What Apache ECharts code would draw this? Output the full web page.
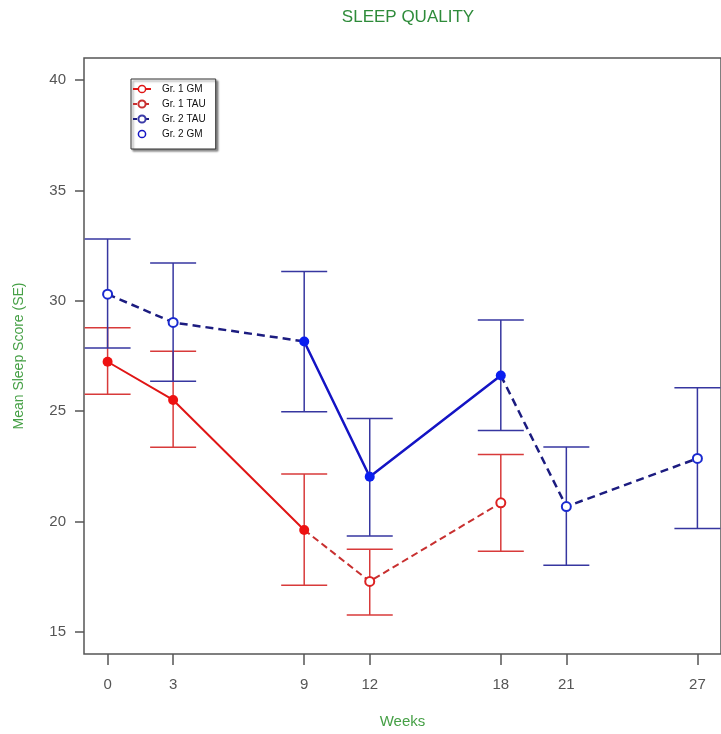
<!DOCTYPE html>
<html>
<head>
<meta charset="utf-8">
<script src="https://cdn.jsdelivr.net/npm/echarts@6/dist/echarts.min.js"></script>
<style>
html,body{margin:0;padding:0;background:#fff;}
#chart{width:721px;height:734px;}
</style>
</head>
<body>
<div id="chart"></div>
<script>
// ---- data ----
const weeks1 = [0, 3, 9, 12, 18];
const mean1  = [27.24, 25.51, 19.62, 17.29, 20.85];
const lo1    = [25.77, 23.37, 17.12, 15.77, 18.66];
const hi1    = [28.78, 27.72, 22.16, 18.75, 23.04];

const weeks2 = [0, 3, 9, 12, 18, 21, 27];
const mean2  = [30.30, 29.02, 28.16, 22.03, 26.62, 20.68, 22.86];
const lo2    = [27.86, 26.36, 24.97, 19.35, 24.13, 18.02, 19.69];
const hi2    = [32.80, 31.71, 31.33, 24.67, 29.13, 23.38, 26.06];

const xTicks = [0, 3, 9, 12, 18, 21, 27];
const yTicks = [15, 20, 25, 30, 35, 40];
const legendNames = ['Gr. 1 GM', 'Gr. 1 TAU', 'Gr. 2 TAU', 'Gr. 2 GM'];
const titleText = 'SLEEP QUALITY';
const xName = 'Weeks';
const yName = 'Mean Sleep Score (SE)';

// ---- styles ----
const RED = '#e01515', RED_D = '#c83030', RED_EB = '#d83a3a';
const BLUE = '#1414c4', BLUE_PT = '#0a1ef0', NAVY = '#1c1c80', BLUE_EB = '#3636a0';
const GREEN_T = '#2e8b3a', GREEN_A = '#46a046';
const FONT = '"Liberation Sans", Arial, Helvetica, sans-serif';

function seg(w, m, from, to, noSym) {
  const out = [];
  for (let i = from; i <= to; i++) {
    const item = { value: [w[i], m[i]] };
    if (noSym.indexOf(i) >= 0) item.symbol = 'none';
    out.push(item);
  }
  return out;
}

function errSeries(w, lo, hi, color) {
  return {
    type: 'custom',
    z: 1,
    silent: true,
    encode: { x: 0, y: [1, 2] },
    data: w.map((x, i) => [x, lo[i], hi[i]]),
    renderItem: function (params, api) {
      const x = api.value(0);
      const pLo = api.coord([x, api.value(1)]);
      const pHi = api.coord([x, api.value(2)]);
      const hw = 23;
      const st = { stroke: color, lineWidth: 1.5 };
      return {
        type: 'group',
        children: [
          { type: 'line', shape: { x1: pLo[0], y1: pLo[1], x2: pHi[0], y2: pHi[1] }, style: st },
          { type: 'line', shape: { x1: pHi[0] - hw, y1: pHi[1], x2: pHi[0] + hw, y2: pHi[1] }, style: st },
          { type: 'line', shape: { x1: pLo[0] - hw, y1: pLo[1], x2: pLo[0] + hw, y2: pLo[1] }, style: st }
        ]
      };
    }
  };
}

const chart = echarts.init(document.getElementById('chart'), null, { renderer: 'canvas' });

const option = {
  animation: false,
  backgroundColor: '#fff',
  textStyle: { fontFamily: FONT },
  title: {
    text: titleText,
    left: 408,
    top: 9,
    textAlign: 'center',
    padding: 0,
    textStyle: { color: GREEN_T, fontSize: 17, fontWeight: 'normal', fontFamily: FONT }
  },
  legend: {
    orient: 'vertical',
    left: 131,
    top: 79,
    padding: [5, 10, 10, 1],
    itemWidth: 18,
    itemHeight: 9,
    itemGap: 5,
    backgroundColor: '#fff',
    borderColor: '#333',
    borderWidth: 1,
    shadowColor: 'rgba(0,0,0,0.45)',
    shadowOffsetX: 2,
    shadowOffsetY: 2,
    shadowBlur: 2,
    textStyle: { fontSize: 10, color: '#111', fontFamily: FONT, padding: [0, 0, 0, 6] },
    data: [
      { name: legendNames[0], itemStyle: { color: '#fff', borderColor: RED, borderWidth: 1.5 } },
      { name: legendNames[1], lineStyle: { type: [4, 2] }, itemStyle: { color: RED_D, borderColor: RED_D } },
      { name: legendNames[2], lineStyle: { type: [4, 2] }, itemStyle: { color: '#3a3aa8', borderColor: NAVY } },
      { name: legendNames[3], lineStyle: { opacity: 0 }, itemStyle: { color: '#fff', borderColor: BLUE, borderWidth: 1.5 } }
    ]
  },
  grid: {
    left: 84,
    top: 58,
    width: 650,
    height: 596,
    show: true,
    borderColor: '#555',
    borderWidth: 1.5,
    backgroundColor: 'transparent'
  },
  xAxis: {
    type: 'value',
    min: -1.08,
    max: 28.08,
    name: xName,
    nameLocation: 'middle',
    nameGap: 60,
    nameTextStyle: { color: GREEN_A, fontSize: 15, fontFamily: FONT },
    axisLine: { show: false, onZero: false },
    splitLine: { show: false },
    axisTick: { show: true, length: 11, customValues: xTicks, lineStyle: { color: '#555', width: 1.5 } },
    axisLabel: { customValues: xTicks, margin: 23, fontSize: 15, color: '#555', fontFamily: FONT }
  },
  yAxis: {
    type: 'value',
    min: 14,
    max: 41,
    name: yName,
    nameLocation: 'middle',
    nameGap: 58,
    nameTextStyle: { color: GREEN_A, fontSize: 14, fontFamily: FONT },
    axisLine: { show: false, onZero: false },
    splitLine: { show: false },
    axisTick: { show: true, length: 9, customValues: yTicks, lineStyle: { color: '#555', width: 1.5 } },
    axisLabel: { customValues: yTicks, margin: 18, fontSize: 15, color: '#555', fontFamily: FONT }
  },
  series: [
    errSeries(weeks1, lo1, hi1, RED_EB),
    errSeries(weeks2, lo2, hi2, BLUE_EB),
    {
      name: legendNames[2], type: 'line', z: 3,
      data: seg(weeks2, mean2, 0, 2, [2]),
      symbol: 'emptyCircle', symbolSize: 9,
      itemStyle: { color: '#1a2ad0', borderWidth: 2 },
      lineStyle: { color: NAVY, width: 2.5, type: [8, 5] }
    },
    {
      name: legendNames[2], type: 'line', z: 3,
      data: seg(weeks2, mean2, 4, 6, [4]),
      symbol: 'emptyCircle', symbolSize: 9,
      itemStyle: { color: '#1a2ad0', borderWidth: 2 },
      lineStyle: { color: NAVY, width: 2.5, type: [8, 5] }
    },
    {
      name: legendNames[3], type: 'line', z: 4,
      data: seg(weeks2, mean2, 2, 4, []),
      symbol: 'circle', symbolSize: 10,
      itemStyle: { color: BLUE_PT },
      lineStyle: { color: BLUE, width: 2.5 }
    },
    {
      name: legendNames[1], type: 'line', z: 3,
      data: seg(weeks1, mean1, 2, 4, [2]),
      symbol: 'emptyCircle', symbolSize: 9,
      itemStyle: { color: '#dd2222', borderWidth: 2.5 },
      lineStyle: { color: RED_D, width: 2, type: [7, 4] }
    },
    {
      name: legendNames[0], type: 'line', z: 4,
      data: seg(weeks1, mean1, 0, 2, []),
      symbol: 'circle', symbolSize: 10,
      itemStyle: { color: '#ee1111' },
      lineStyle: { color: RED, width: 2 }
    }
  ]
};

chart.setOption(option);
</script>
</body>
</html>
